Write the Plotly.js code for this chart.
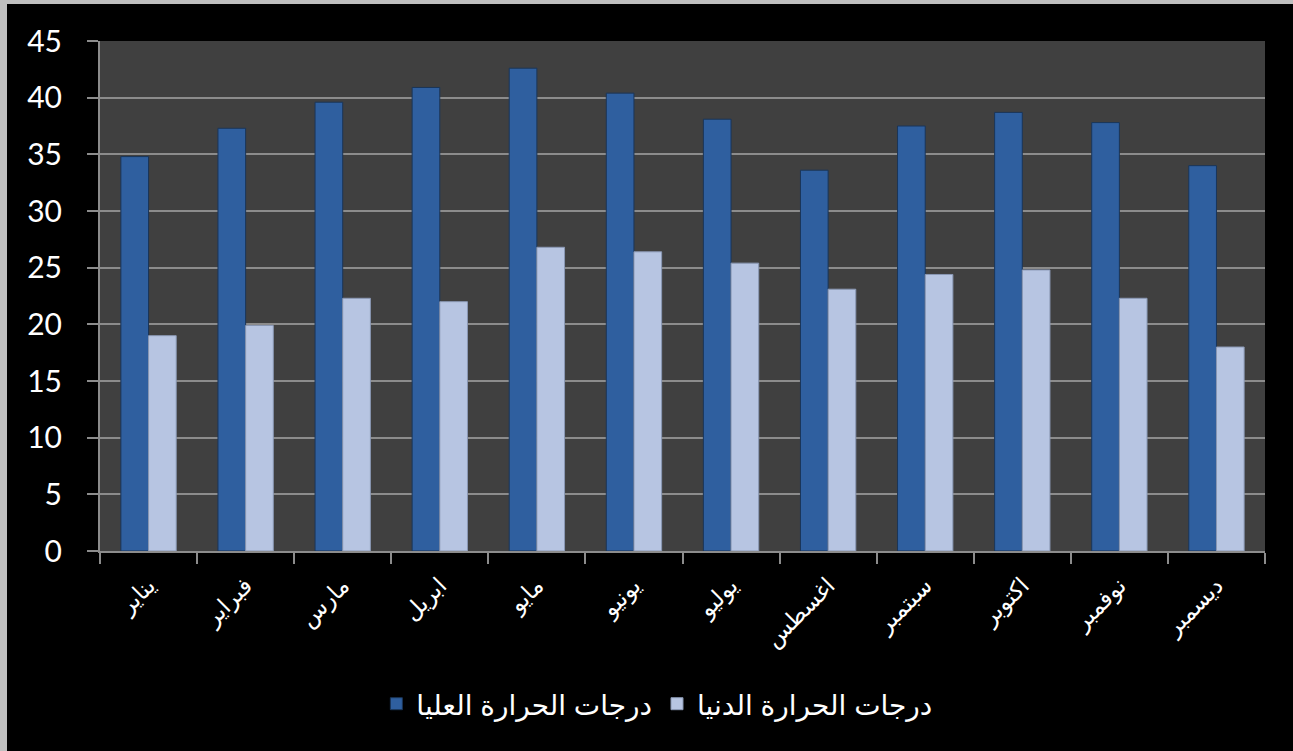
<!DOCTYPE html>
<html>
<head>
<meta charset="utf-8">
<script src="https://cdn.plot.ly/plotly-3.0.1.min.js"></script>
<style>
  html, body { margin: 0; padding: 0; background: #c0c0c0; width: 1293px; height: 751px; overflow: hidden; }
  #chart { position: absolute; left: 7px; top: 4px; width: 1286px; height: 747px; background: #000; }
</style>
</head>
<body>
<div id="chart"></div>
<script>
const months = ["يناير", "فبراير", "مارس", "ابريل", "مايو", "يونيو", "يوليو", "اغسطس", "سبتمبر", "اكتوبر", "نوفمبر", "ديسمبر"];
const maxTemps = [34.8, 37.3, 39.6, 40.9, 42.6, 40.4, 38.1, 33.6, 37.5, 38.7, 37.8, 34.0];
const minTemps = [19.0, 19.9, 22.3, 22.0, 26.8, 26.4, 25.4, 23.1, 24.4, 24.8, 22.3, 18.0];
const seriesNames = ["درجات الحرارة العليا", "درجات الحرارة الدنيا"];
const yTicks = [0, 5, 10, 15, 20, 25, 30, 35, 40, 45];

const fontFam = "Liberation Sans, Arial, DejaVu Sans, sans-serif";
const numFont = "Lato, Liberation Sans, sans-serif";

const data = [
  {
    type: "bar", name: seriesNames[0], x: months, y: maxTemps,
    marker: { color: "#2f5f9f", line: { color: "#1a3558", width: 1 } },
    hoverinfo: "x+y"
  },
  {
    type: "bar", name: seriesNames[1], x: months, y: minTemps,
    marker: { color: "#b7c5e2", line: { color: "#8a98b4", width: 1 } },
    hoverinfo: "x+y"
  }
];

const layout = {
  width: 1286, height: 747,
  paper_bgcolor: "#000000",
  plot_bgcolor: "#404040",
  margin: { l: 93, r: 28, t: 37, b: 200 },
  barmode: "group",
  bargap: 0.43,
  bargroupgap: 0,
  font: { family: fontFam, color: "#ffffff", size: 24 },
  showlegend: true,
  legend: {
    orientation: "h", x: 0.478, xanchor: "center", y: -0.30, yanchor: "middle",
    font: { family: fontFam, size: 28, color: "#ffffff" },
    bgcolor: "rgba(0,0,0,0)", traceorder: "normal", itemwidth: 30
  },
  xaxis: {
    type: "category",
    tickangle: -45,
    tickfont: { family: fontFam, size: 23, color: "#ffffff" },
    ticks: "outside", tickson: "boundaries", ticklen: 11, tickcolor: "#8c8c8c", tickwidth: 2,
    showline: true, linecolor: "#8c8c8c", linewidth: 2,
    showgrid: false, zeroline: false,
    ticklabelstandoff: 10
  },
  yaxis: {
    range: [0, 45],
    tickvals: yTicks,
    tickfont: { family: numFont, size: 30, color: "#ffffff" },
    ticks: "outside", ticklen: 11, tickcolor: "#8c8c8c", tickwidth: 2,
    showline: true, linecolor: "#8c8c8c", linewidth: 2,
    showgrid: true, gridcolor: "#8c8c8c", gridwidth: 2,
    zeroline: false,
    ticklabelstandoff: 19
  }
};

Plotly.newPlot("chart", data, layout, { displayModeBar: false, staticPlot: true });
</script>
</body>
</html>
